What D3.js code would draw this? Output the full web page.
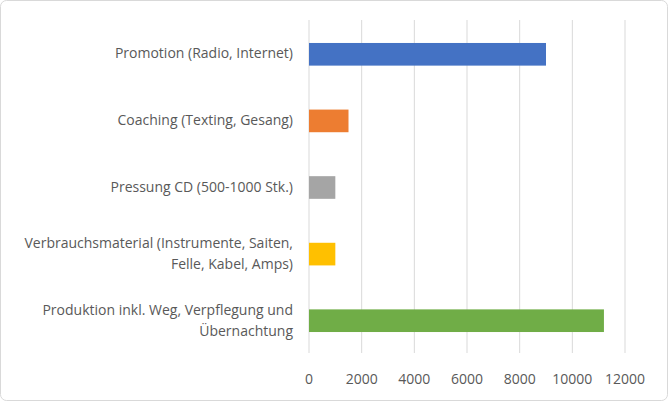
<!DOCTYPE html>
<html><head><meta charset="utf-8">
<script src="https://cdn.jsdelivr.net/npm/d3@7"></script>
<style>
body { margin: 0; background: #fff; }
text { font-family: "Open Sans", "Noto Sans", sans-serif; font-size: 14px; fill: #595959; }
</style></head>
<body><div id="chart"></div>
<script>
var categories = [
  ["Promotion (Radio, Internet)"],
  ["Coaching (Texting, Gesang)"],
  ["Pressung CD (500-1000 Stk.)"],
  ["Verbrauchsmaterial (Instrumente, Saiten,", "Felle, Kabel, Amps)"],
  ["Produktion inkl. Weg, Verpflegung und", "Übernachtung"]
];
var values = [9000, 1500, 1000, 1000, 11200];
var colors = ["#4472c4", "#ed7d31", "#a5a5a5", "#ffc000", "#70ad47"];
var ticks = [0, 2000, 4000, 6000, 8000, 10000, 12000];

var width = 668, height = 401;
var margin = { left: 309, top: 20, right: 43, bottom: 48 };

var svg = d3.select("#chart").append("svg")
  .attr("width", width).attr("height", height);

svg.append("rect").attr("x", 0.5).attr("y", 0.5)
  .attr("width", width - 1).attr("height", height - 1)
  .attr("rx", 6).attr("fill", "#fff").attr("stroke", "#d9d9d9");

var x = d3.scaleLinear().domain([0, 12000]).range([margin.left, width - margin.right]);
var y = d3.scaleBand().domain(d3.range(categories.length))
  .range([margin.top, height - margin.bottom]).paddingInner(0.66).paddingOuter(0.33);

// gridlines
svg.append("g").selectAll("line").data(ticks).enter().append("line")
  .attr("x1", d => x(d)).attr("x2", d => x(d))
  .attr("y1", margin.top).attr("y2", height - margin.bottom)
  .attr("stroke", "#d9d9d9");

svg.append("g").selectAll("rect").data(values).enter().append("rect")
  .attr("x", x(0)).attr("y", (d, i) => y(i) + 1)
  .attr("width", d => x(d) - x(0)).attr("height", y.bandwidth())
  .attr("fill", (d, i) => colors[i]);

svg.append("g").selectAll("text").data(ticks).enter().append("text")
  .attr("x", d => x(d)).attr("y", 384)
  .attr("text-anchor", "middle").text(d => d);

var lab = svg.append("g").selectAll("text").data(categories).enter().append("text")
  .attr("text-anchor", "end")
  .attr("y", (d, i) => y(i) + y.bandwidth() / 2 + 5 - (d.length - 1) * 10);
lab.selectAll("tspan").data(d => d).enter().append("tspan")
  .attr("x", 293).attr("dy", (d, j) => j ? 21 : 0).text(d => d);
</script></body></html>
